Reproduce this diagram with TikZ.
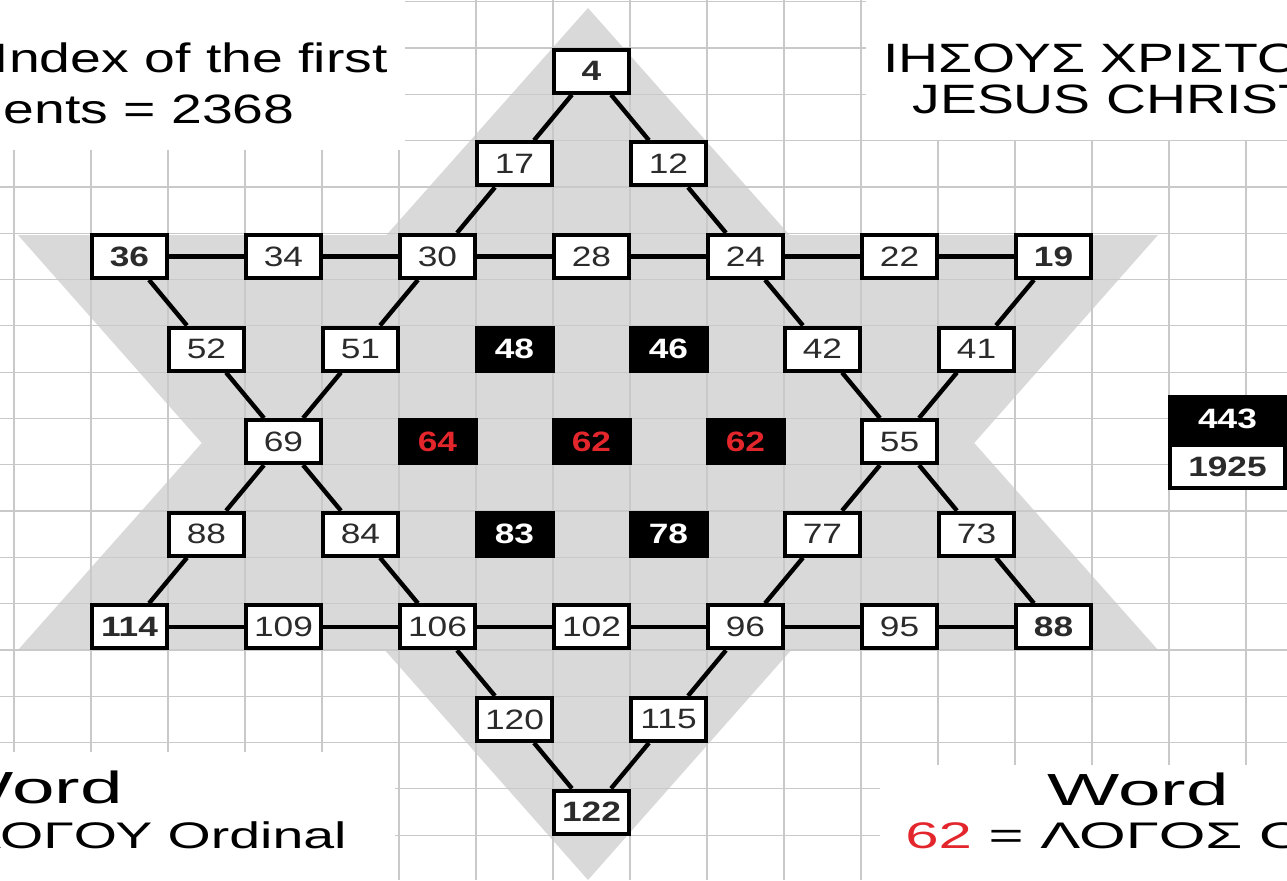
\documentclass[tikz,border=0pt]{standalone}
\usepackage{fontspec}
\setmainfont{Liberation Sans}[FakeStretch=1.26]
\newfontfamily\capfont{Liberation Sans}[FakeStretch=1.35]
\newfontfamily\subfont{Liberation Sans}[FakeStretch=1.5]
\newfontfamily\subwidefont{Liberation Sans}[FakeStretch=1.62]
\newfontfamily\wordfont{Liberation Sans}[FakeStretch=1.7]
\usetikzlibrary{positioning}
\definecolor{stStar}{HTML}{D9D9D9}
\definecolor{stGrid}{HTML}{C9C9C9}
\definecolor{stInk} {HTML}{2B2B2B}
\definecolor{stRed} {HTML}{E3262B}

\tikzset{
  plaincell/.style={draw=black,fill=white,line width=2pt,minimum width=37.5pt,
                    minimum height=21.5pt,inner sep=0pt,text=stInk,
                    font=\fontsize{14}{14}\selectfont},
  pointcell/.style={plaincell,font=\fontsize{14}{14}\selectfont\bfseries},
  darkcell/.style={fill=black,minimum width=40pt,minimum height=23.5pt,inner sep=0pt,
                   text=white,font=\fontsize{14}{14}\selectfont\bfseries},
  redcell/.style={darkcell,text=stRed},
  link/.style={line width=2.2pt},
  gridline/.style={draw=stGrid,line width=0.6pt},
  caption/.style={inner sep=0pt,font=\fontsize{20.5}{20.5}\capfont},
  subcaption/.style={inner sep=0pt,font=\fontsize{18.5}{18.5}\subfont},
  subwidecaption/.style={inner sep=0pt,font=\fontsize{18.5}{18.5}\subwidefont},
  wordcaption/.style={inner sep=0pt,font=\fontsize{22.5}{22.5}\wordfont},
}

\begin{document}
\begin{tikzpicture}[x=0.5pt,y=-0.5pt]
  \useasboundingbox (0,0) rectangle (1287,880);
  \clip (0,0) rectangle (1287,880);
  \fill[white] (0,0) rectangle (1287,880);

  % hexagram
  \fill[stStar] (18,650) -- (588,8) -- (1158,650) -- cycle;
  \fill[stStar] (18,235) -- (1158,235) -- (588,880) -- cycle;

  % sheet grid
  \foreach \gx in {0,...,16}
    \draw[gridline] ({14+77*\gx},0) -- ({14+77*\gx},880);
  \foreach \gy in {0,...,19}
    \draw[gridline] (0,{1.7+46.3*\gy}) -- (1287,{1.7+46.3*\gy});

  % text boxes
  \fill[white] (0,0) rectangle (405,150);
  \fill[white] (866,0) rectangle (1287,140);
  \fill[white] (0,752) rectangle (395,880);
  \fill[white] (880,765) rectangle (1287,880);

  \node[caption,anchor=base east] (idxA) at (388,72) {Index of the first};
  \node[caption,anchor=base east] (idxB) at (295,123) {elements = 2368};
  \node[caption,anchor=base west] (greekA) at (883,72) {ΙΗΣΟΥΣ ΧΡΙΣΤΟΣ};
  \node[caption,anchor=base west] (greekB) at (912,113) {JESUS CHRIST};
  \node[wordcaption,anchor=base east] (wordL) at (123,803) {Word};
  \node[subcaption,anchor=base east] (ordL) at (347,848) {ΛΟΓΟΥ Ordinal};
  \node[wordcaption,anchor=base west] (wordR) at (1047,805) {Word};
  \node[subwidecaption,anchor=base west] (ordR) at (905,848) {\textcolor{stRed}{62} = ΛΟΓΟΣ Ordinal};

  % cells
  \node[pointcell] (n4)   at (591.5,71.2)  {4};
  \node[plaincell] (n17)  at (514.5,163.8) {17};
  \node[plaincell] (n12)  at (668.5,163.8) {12};

  \node[pointcell] (n36)  at (129.5,256.4)  {36};
  \node[plaincell] (n34)  at (283.5,256.4)  {34};
  \node[plaincell] (n30)  at (437.5,256.4)  {30};
  \node[plaincell] (n28)  at (591.5,256.4)  {28};
  \node[plaincell] (n24)  at (745.5,256.4)  {24};
  \node[plaincell] (n22)  at (899.5,256.4)  {22};
  \node[pointcell] (n19)  at (1053.5,256.4) {19};

  \node[plaincell] (n52)  at (206.5,349) {52};
  \node[plaincell] (n51)  at (360.5,349) {51};
  \node[darkcell]  (n48)  at (514.5,349) {48};
  \node[darkcell]  (n46)  at (668.5,349) {46};
  \node[plaincell] (n42)  at (822.5,349) {42};
  \node[plaincell] (n41)  at (976.5,349) {41};

  \node[plaincell] (n69)  at (283.5,441.6) {69};
  \node[redcell]   (n64)  at (437.5,441.6) {64};
  \node[redcell]   (n62a) at (591.5,441.6) {62};
  \node[redcell]   (n62b) at (745.5,441.6) {62};
  \node[plaincell] (n55)  at (899.5,441.6) {55};

  \node[plaincell] (n88a) at (206.5,534.2) {88};
  \node[plaincell] (n84)  at (360.5,534.2) {84};
  \node[darkcell]  (n83)  at (514.5,534.2) {83};
  \node[darkcell]  (n78)  at (668.5,534.2) {78};
  \node[plaincell] (n77)  at (822.5,534.2) {77};
  \node[plaincell] (n73)  at (976.5,534.2) {73};

  \node[pointcell] (n114) at (129.5,626.8)  {114};
  \node[plaincell] (n109) at (283.5,626.8)  {109};
  \node[plaincell] (n106) at (437.5,626.8)  {106};
  \node[plaincell] (n102) at (591.5,626.8)  {102};
  \node[plaincell] (n96)  at (745.5,626.8)  {96};
  \node[plaincell] (n95)  at (899.5,626.8)  {95};
  \node[pointcell] (n88b) at (1053.5,626.8) {88};

  \node[plaincell] (n120) at (514.5,719.4) {120};
  \node[plaincell] (n115) at (668.5,719.4) {115};
  \node[pointcell] (n122) at (591.5,812)   {122};

  % totals
  \node[darkcell,minimum width=59.5pt,minimum height=24pt] (n443) at (1227.5,419) {443};
  \node[pointcell,minimum width=57.5pt,below=0pt of n443] (n1925) {1925};

  % connectors
  \foreach \a/\b in {n4/n17,n4/n12,n17/n30,n12/n24,
                     n36/n34,n34/n30,n30/n28,n28/n24,n24/n22,n22/n19,
                     n36/n52,n52/n69,n30/n51,n51/n69,
                     n24/n42,n42/n55,n19/n41,n41/n55,
                     n69/n88a,n88a/n114,n69/n84,n84/n106,
                     n55/n77,n77/n96,n55/n73,n73/n88b,
                     n114/n109,n109/n106,n106/n102,n102/n96,n96/n95,n95/n88b,
                     n106/n120,n120/n122,n96/n115,n115/n122}
    \draw[link] (\a) -- (\b);
\end{tikzpicture}
\end{document}
